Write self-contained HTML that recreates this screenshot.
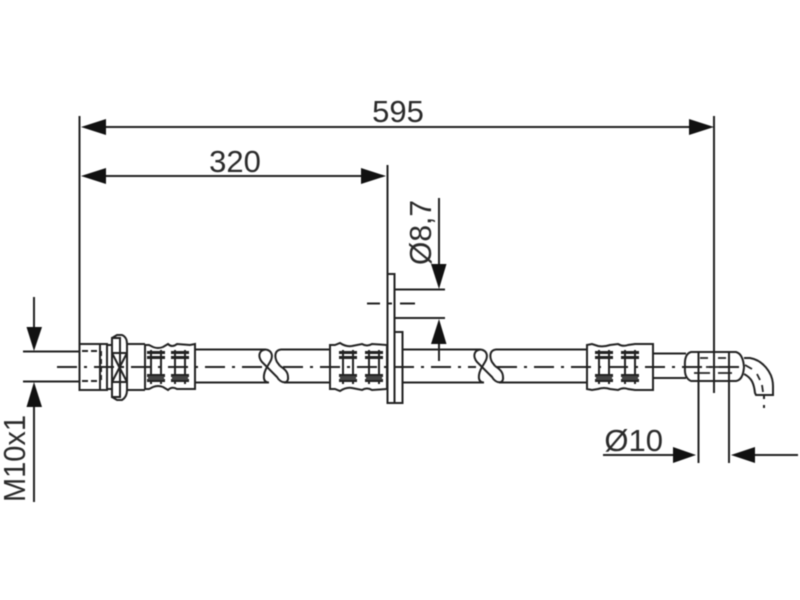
<!DOCTYPE html>
<html><head><meta charset="utf-8"><style>
html,body{margin:0;padding:0;background:#fff}
svg{display:block;filter:blur(0.4px)}
text{font-family:"Liberation Sans",sans-serif;fill:#2a2a2a;font-size:31px}
</style></head><body>
<svg width="800" height="600" viewBox="0 0 800 600" xmlns="http://www.w3.org/2000/svg">
<defs>
<g id="brk" fill="none" stroke="#222" stroke-width="2">
<path d="M266 349.500C258 350 258 357 262 362L277 377C281 384 289 384 288 377C288 371 283 368 280 366"/>
<path d="M266 349.500C273 351 273 357 270 362L267 367C263 374 262 382.500 269 382.500"/>
<path d="M284 349.500H281C275 350 274 356 277 362L280 366"/>
</g>
<g id="ring" fill="none" stroke="#222">
<path d="M-1 -14.500H17M-1 -9.500H17M-1 8.500H17M-1 13.500H17" stroke-width="3"/>
<path d="M3 -17V17M13 -17V17" stroke-width="2"/>
<path d="M0 9H16V13H0Z" fill="#444" stroke="none"/>
</g>
</defs>

<!-- extension lines -->
<g stroke="#222" stroke-width="2" fill="none">
<path d="M79.500 116V345"/>
<path d="M714 116V393"/>
<path d="M387.500 165V403"/>
<path d="M100 127H695"/>
<path d="M100 176H370"/>
<path d="M23 351.500H80M23 381.500H80"/>
<path d="M34 297V330M34 405V502"/>
<path d="M394 289.500H445M394 318H445"/>
<path d="M439 198V268M439 340V361"/>
<path d="M698.500 352V463M729 352V463"/>
<path d="M603 455H676M752 455H798"/>
</g>

<!-- arrowheads -->
<g fill="#111">
<path d="M81 127L106 119V135Z"/>
<path d="M714 127L689 119V135Z"/>
<path d="M81 176L106 168V184Z"/>
<path d="M386 176L361 168V184Z"/>
<path d="M34 351L26.500 327H42Z"/>
<path d="M34 382L26.500 407H42Z"/>
<path d="M439 289L431 264H446.500Z"/>
<path d="M439 319L431 344H446.500Z"/>
<path d="M696 455L673 447V463Z"/>
<path d="M731 455L755 447V463Z"/>
</g>

<!-- hose lines -->
<g stroke="#222" stroke-width="2" fill="none">
<path d="M196 349.500H266M196 382.500H269"/>
<path d="M284 349.500H330M284 382.500H330"/>
<path d="M402 349.500H481M402 382.500H484"/>
<path d="M499 349.500H587M499 382.500H587"/>
<path d="M653 353.500H686M653 378H686"/>
</g>
<use href="#brk"/>
<use href="#brk" x="215"/>

<!-- centre lines -->
<g stroke="#222" stroke-width="2" fill="none">
<path d="M57 367H265M283 367H476M497 367H745" stroke-dasharray="20 7 3 7"/>
<path d="M367 303.500H380M387 303.500H392M400 303.500H415"/>
<path d="M764 395V399M764 405V408"/>
</g>

<!-- left fitting -->
<g stroke="#222" stroke-width="2" fill="none">
<path d="M79.500 344H107V390H79.500Z"/>
<path d="M100 344V390M107 345H112M107 389H112"/>
<path d="M82 351H100M82 381H100" stroke-dasharray="6 3"/>
<path d="M101 351V381" stroke-dasharray="5 3"/>
<path d="M112 338H120V397H112Z"/>
<path d="M112 338L117 335H122Q127 337 127 344V390Q127 397 122 400H117L112 397"/>
<path d="M112 353L127 382M127 353L112 382M112 353H127M112 382H127"/>
<path d="M127 344H145M127 390H145"/>
<path d="M145 345H149L153 347Q158 349 163 347L168 344Q172 348 177 344L190 345L195 344V389L190 389H177Q172 386 168 390L163 387Q158 385 153 387L149 389H145Z"/>
</g>
<use href="#ring" x="148" y="367"/>
<use href="#ring" x="172" y="367"/>

<!-- middle ferrule & plate -->
<g stroke="#222" stroke-width="2" fill="none">
<path d="M330 345H335L340 343Q346 347 352 346L362 344Q367 347 372 344L387 345V389L372 390Q367 387 362 390L352 388Q346 387 340 391L335 389H330Z"/>
<path d="M387.500 274H394.500V403H387.500Z"/>
<path d="M395 332H402.500V403H395"/>
</g>
<use href="#ring" x="340" y="367"/>
<use href="#ring" x="366" y="367"/>

<!-- right ferrule -->
<g fill="none" stroke="#222" stroke-width="2">
<path d="M587 345L592 344L598 346Q604 347 610 345L618 344Q623 347 628 345L635 344H653V390H635L628 389Q623 387 618 390L610 389Q604 387 598 389L592 390L587 389Z"/>
<path d="M691 352H736Q743 354 744 367Q743 380 736 381H691Q684 378 685 367Q684 354 691 352Z"/>
<path d="M744 358H750C762 360 773 372 773 386V395H756L755 393C754 384 752 378 744 374"/>
</g>
<use href="#ring" x="596" y="367"/>
<use href="#ring" x="622" y="367"/>

<!-- fitting interior -->
<g stroke="#222" stroke-width="1.800" fill="none">
<path d="M700 358H708M718 358H726M694 373H710M718 373H732M706 367H722"/>
<path d="M745 365L752 369M757 374L760 380M762 385L763 392"/>
</g>

<!-- labels -->
<text x="398" y="122" text-anchor="middle">595</text>
<text x="235" y="172" text-anchor="middle">320</text>
<text x="663" y="451" text-anchor="end">Ø10</text>
<text transform="translate(431,265) rotate(-90)" textLength="65" lengthAdjust="spacingAndGlyphs">Ø8,7</text>
<text transform="translate(25,502) rotate(-90)" textLength="87" lengthAdjust="spacingAndGlyphs">M10x1</text>
</svg>
</body></html>
